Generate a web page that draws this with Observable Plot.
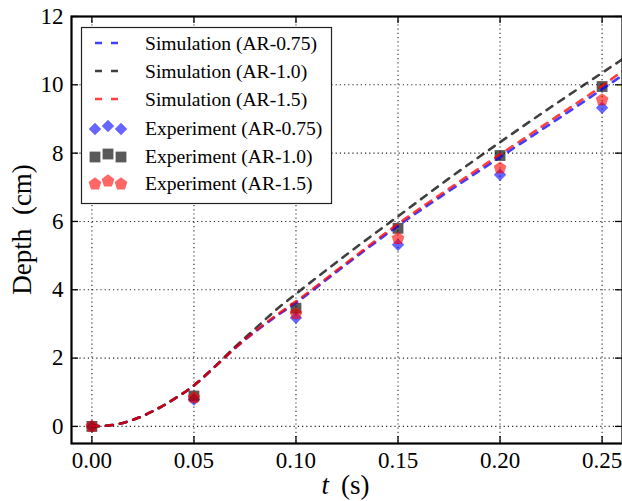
<!DOCTYPE html>
<html><head><meta charset="utf-8">
<script src="https://cdn.jsdelivr.net/npm/d3@7"></script>
<script src="https://cdn.jsdelivr.net/npm/@observablehq/plot@0.6"></script>
<style>
html,body{margin:0;padding:0;background:#fff;overflow:hidden}
svg{display:block}
</style>
</head><body><div id="chart"></div>
<script>
// ---- data ----
const simT     = [0, 0.01, 0.02, 0.03, 0.04, 0.05, 0.06, 0.07, 0.08, 0.09, 0.10, 0.125, 0.15, 0.175, 0.20, 0.225, 0.25, 0.26];
const simAR075 = [0, 0.04, 0.19, 0.45, 0.79, 1.20, 1.73, 2.28, 2.77, 3.21, 3.62, 4.76, 5.87, 6.89, 7.88, 8.87, 9.87, 10.28];
const simAR10  = [0, 0.04, 0.19, 0.45, 0.79, 1.20, 1.74, 2.32, 2.86, 3.40, 3.88, 5.04, 6.15, 7.26, 8.32, 9.35, 10.35, 10.75];
const simAR15  = [0, 0.04, 0.19, 0.45, 0.79, 1.20, 1.73, 2.28, 2.79, 3.24, 3.66, 4.80, 5.93, 6.96, 7.96, 8.96, 9.97, 10.40];

const expT     = [0, 0.05, 0.10, 0.15, 0.20, 0.25];
const expAR075 = [0, 0.79, 3.18, 5.32, 7.37, 9.33];
const expAR10  = [0, 0.89, 3.46, 5.80, 7.93, 9.95];
const expAR15  = [0, 0.84, 3.30, 5.50, 7.56, 9.56];

const xTicks = [0, 0.05, 0.10, 0.15, 0.20, 0.25];
const yTicks = [0, 2, 4, 6, 8, 10, 12];
const simLabels = ["Simulation (AR-0.75)", "Simulation (AR-1.0)", "Simulation (AR-1.5)"];
const expLabels = ["Experiment (AR-0.75)", "Experiment (AR-1.0)", "Experiment (AR-1.5)"];
const xLabel = "(s)";
const xLabelVar = "t";
const yLabel = "Depth (cm)";

// ---- styling ----
const W = 622, H = 501, mL = 71, mR = 0, mT = 16, mB = 58;
const lineColors = ["#0000ff", "#000000", "#ff0000"];
const dotColors = ["#0000ff", "#000000", "#ff0000"];
const dotOpac = [0.6, 0.65, 0.6];

const pentagon = {
  draw(ctx, size) {
    const R = Math.sqrt(size / 2.3776);
    for (let i = 0; i < 5; i++) {
      const a = -Math.PI / 2 + i * 2 * Math.PI / 5;
      const px = R * Math.cos(a), py = R * Math.sin(a);
      if (i) ctx.lineTo(px, py); else ctx.moveTo(px, py);
    }
    ctx.closePath();
  }
};
const symbols = ["diamond2", "square", pentagon];
const d3symbols = [d3.symbolDiamond2, d3.symbolSquare, pentagon];
const dotR = [5.6, 6.1, 5.8];

const simSeries = [simAR075, simAR10, simAR15];
const expSeries = [expAR075, expAR10, expAR15];
const sim = simSeries.map(s => simT.map((t, i) => ({t, d: s[i]})));
const exp = expSeries.map(s => expT.map((t, i) => ({t, d: s[i]})));

const plotW = W - mL - mR, plotH = H - mT - mB;
const gridStyle = {stroke: "black", strokeOpacity: 0.85, strokeWidth: 1.1, strokeDasharray: "1.2,3"};

const chart = Plot.plot({
  width: W, height: H,
  marginLeft: mL, marginRight: mR, marginTop: mT, marginBottom: mB,
  x: {domain: [-0.01, 0.26]},
  y: {domain: [-0.5, 12]},
  style: {fontFamily: "'Liberation Serif', 'DejaVu Serif', serif", fontSize: "23px", color: "black", background: "white", overflow: "visible"},
  marks: [
    Plot.gridX(xTicks, gridStyle),
    Plot.gridY(yTicks, gridStyle),
    // experiment markers
    ...exp.map((e, k) => Plot.dot(e, {x: "t", y: "d", symbol: () => symbols[k], r: dotR[k], fill: dotColors[k], fillOpacity: dotOpac[k], stroke: "none"})),
    // simulation lines
    ...sim.map((s, k) => Plot.line(s, {x: "t", y: "d", curve: "monotone-x", stroke: lineColors[k], strokeOpacity: 0.75, strokeWidth: 2.6, strokeDasharray: "7,7"})),
    // inward ticks
    Plot.ruleX(xTicks, {x: d => d, insetTop: plotH - 7, stroke: "black", strokeWidth: 1.3}),
    Plot.ruleX(xTicks, {x: d => d, insetBottom: plotH - 7, stroke: "black", strokeWidth: 1.3}),
    Plot.ruleY(yTicks, {y: d => d, insetRight: plotW - 7, stroke: "black", strokeWidth: 1.3}),
    Plot.ruleY(yTicks, {y: d => d, insetLeft: plotW - 7, stroke: "black", strokeWidth: 1.3}),
    // tick labels
    Plot.axisX(xTicks, {tickSize: 0, tickPadding: 8, tickFormat: d3.format(".2f"), label: null, fontSize: 23}),
    Plot.axisY(yTicks, {tickSize: 0, tickPadding: 8, label: null, fontSize: 23}),
    Plot.frame({stroke: "black", strokeWidth: 2.2})
  ]
});
document.getElementById("chart").appendChild(chart);

// ---- axis titles and legend ----
const svg = d3.select(chart);
const font = "'Liberation Serif', 'DejaVu Serif', serif";
const xt = svg.append("text")
  .attr("x", mL + plotW / 2 - 1).attr("y", 494)
  .attr("text-anchor", "middle").attr("font-family", font).attr("font-size", 27).attr("fill", "black");
xt.append("tspan").attr("font-style", "italic").text(xLabelVar);
xt.append("tspan").attr("dx", 12).text(xLabel);

svg.append("text")
  .attr("transform", `translate(31,${mT + plotH / 2}) rotate(-90)`)
  .attr("text-anchor", "middle").attr("font-family", font).attr("font-size", 27)
  .attr("word-spacing", 7).attr("fill", "black").text(yLabel);

const lg = svg.append("g").attr("text-anchor", "start");
lg.append("rect").attr("x", 81.5).attr("y", 27.5).attr("width", 250).attr("height", 176)
  .attr("fill", "white").attr("stroke", "#222").attr("stroke-width", 1.2);
const rowY = [43, 71, 99, 128, 156, 183];
simLabels.forEach((lab, k) => {
  lg.append("line").attr("x1", 95).attr("x2", 118).attr("y1", rowY[k]).attr("y2", rowY[k])
    .attr("stroke", lineColors[k]).attr("stroke-opacity", 0.75).attr("stroke-width", 2.6).attr("stroke-dasharray", "7,9");
  lg.append("text").attr("x", 145).attr("y", rowY[k] + 6.5).attr("text-anchor", "start").attr("font-family", font).attr("font-size", 19.6).attr("fill", "black").text(lab);
});
expLabels.forEach((lab, k) => {
  const y = rowY[k + 3];
  [95, 108, 121].forEach((x, j) => {
    const dy = (j === 1) ? -2 : 1;
    lg.append("path").attr("transform", `translate(${x},${y + dy})`)
      .attr("d", d3.symbol(d3symbols[k], dotR[k] * dotR[k] * Math.PI)())
      .attr("fill", dotColors[k]).attr("fill-opacity", dotOpac[k]);
  });
  lg.append("text").attr("x", 145).attr("y", y + 6.5).attr("text-anchor", "start").attr("font-family", font).attr("font-size", 19.6).attr("fill", "black").text(lab);
});
</script>
</body></html>
